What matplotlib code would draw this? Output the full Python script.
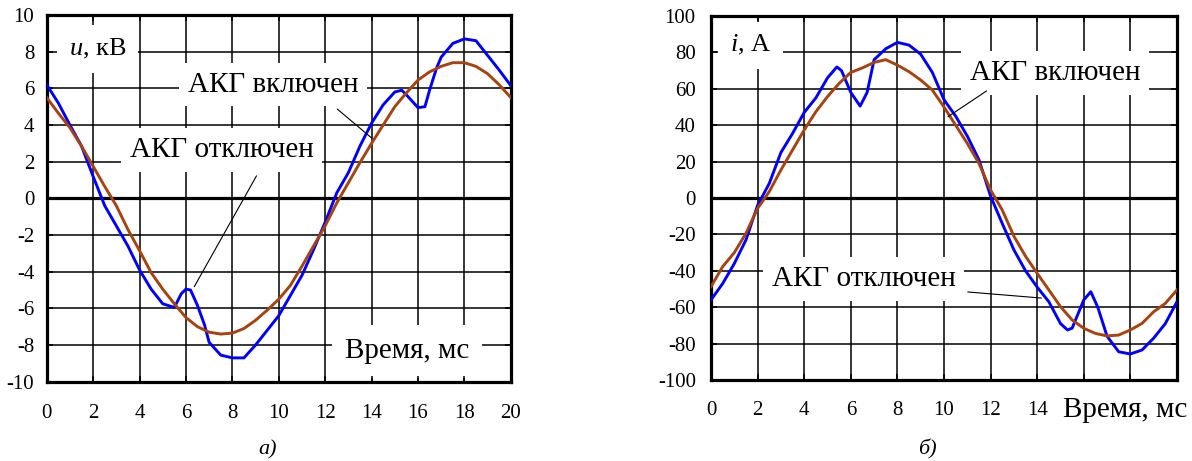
import numpy as np
import matplotlib
matplotlib.use("Agg")
import matplotlib.pyplot as plt

plt.rcParams['font.family'] = ['Liberation Serif', 'DejaVu Serif']
plt.rcParams['mathtext.fontset'] = 'custom'
plt.rcParams['mathtext.rm'] = 'Liberation Serif'
plt.rcParams['mathtext.it'] = 'Liberation Serif:italic'
plt.rcParams['axes.unicode_minus'] = False

# ---------------------------------------------------------------
# data
# ---------------------------------------------------------------
# а) voltage, kV
t_u_on = np.arange(0, 20.01, 0.5)
u_on = [5.5, 4.65, 3.85, 2.85, 1.75, 0.65, -0.4, -1.7, -2.85, -4.05, -4.95,
        -5.75, -6.5, -7.0, -7.3, -7.4, -7.35, -7.1, -6.65, -6.1, -5.5,
        -4.75, -3.7, -2.6, -1.5, -0.25, 0.85, 1.95, 3.0, 4.0, 5.0,
        5.75, 6.45, 6.9, 7.2, 7.4, 7.4, 7.2, 6.8, 6.2, 5.5]

t_u_off = [0, 0.5, 1, 1.5, 2, 2.5, 3, 3.5, 4, 4.5,
           5, 5.5, 5.8, 6, 6.2, 6.5, 6.8, 7, 7.5, 8,
           8.5, 9, 9.5, 10, 10.5, 11, 11.5, 12, 12.5, 13,
           13.5, 14, 14.5, 15, 15.3, 15.5, 16, 16.3, 16.5, 16.8,
           17, 17.5, 18, 18.5, 19, 19.5, 20]
u_off = [6.2, 5.2, 4.0, 2.85, 1.2, -0.4, -1.5, -2.6, -3.9, -4.95,
         -5.75, -5.95, -5.2, -4.95, -5.0, -5.85, -6.9, -7.85, -8.55, -8.7,
         -8.7, -8.0, -7.2, -6.4, -5.3, -4.2, -2.8, -1.3, 0.3, 1.4,
         2.85, 4.1, 5.1, 5.8, 5.9, 5.65, 4.95, 5.0, 5.9, 7.1,
         7.7, 8.45, 8.7, 8.6, 7.8, 7.0, 6.15]

# б) current, A
t_i_on = np.arange(0, 20.01, 0.5)
i_on = [-48.7, -37.7, -30, -19.4, -5.7, 3.5, 15.4, 26.4, 37.4, 47.4, 55.7,
        63, 69, 71.5, 74.5, 76, 73, 69.4, 64.8, 59.3, 50,
        40, 30, 19, 4.4, -6.6, -21, -32, -41.4, -50.5, -59.7,
        -67, -71.6, -74.4, -75.8, -75.3, -72.5, -68.9, -62.5, -57.9, -50.5]

t_i_off = [0, 0.5, 1, 1.5, 2, 2.5, 3, 3.5, 4, 4.5, 5,
           5.4, 5.6, 6, 6.4, 6.7, 7, 7.5, 8, 8.5, 9, 9.5, 10,
           10.5, 11, 11.5, 12, 12.5, 13, 13.5, 14, 14.5, 15,
           15.3, 15.5, 16, 16.3, 16.6, 17, 17.5, 18, 18.5, 19, 19.5, 20]
i_off = [-56, -47, -36, -23, -4, 8, 25, 35.5, 47, 55, 66,
         72, 70, 58, 50.5, 58, 76, 82, 85.5, 84, 79, 69, 54,
         45, 34, 21, 1, -14, -28.5, -40, -49, -57, -69,
         -72.5, -71.5, -56, -51.5, -60, -76, -84.5, -85.7, -83.5, -77, -69, -57]

u_ticks = np.arange(-10, 11, 2)
i_ticks = np.arange(-100, 101, 20)
t_ticks = np.arange(0, 21, 2)
t_labels_b = [str(v) if v <= 14 else '' for v in t_ticks]

blue = '#0000FF'
brown = '#A8430F'
text_size = 21
tick_size = 15


def base_axes(ax, yticks):
    # grid drawn by hand so the white text boxes can hide it
    for x in t_ticks:
        ax.axvline(x, color='black', lw=1.1, zorder=1)
    for y in yticks:
        ax.axhline(y, color='black', lw=2.3 if y == 0 else 1.1, zorder=1)
    ax.set_xlim(0, 20)
    ax.set_ylim(yticks[0], yticks[-1])
    ax.set_xticks(t_ticks)
    ax.set_yticks(yticks)
    ax.tick_params(direction='in', length=4, width=1.1, top=True, right=True,
                   labelsize=tick_size)
    ax.set_axisbelow(False)
    for s in ax.spines.values():
        s.set_linewidth(2.3)


box = dict(facecolor='white', edgecolor='none', boxstyle='square,pad=0.3')
big_box = dict(facecolor='white', edgecolor='none', boxstyle='square,pad=0.45')

fig = plt.figure(figsize=(11.92, 4.61), dpi=100)

# ---------------------------------------------------------------
# а) voltage
# ---------------------------------------------------------------
ax1 = fig.add_axes([0.0392, 0.172, 0.3893, 0.7954])
base_axes(ax1, u_ticks)
ax1.tick_params(axis='x', pad=16)
ax1.tick_params(axis='y', pad=9)
ax1.plot(t_u_off, u_off, color=blue, lw=2.1, zorder=3)
ax1.plot(t_u_on, u_on, color=brown, lw=2.1, zorder=3)

ax1.text(2.2, 7.8, r'$u$, кВ', fontsize=19, ha='center', va='baseline',
         bbox=big_box, zorder=2)
ax1.text(9.75, 5.82, 'АКГ включен', fontsize=text_size, ha='center', va='baseline',
         bbox=box, zorder=2)
ax1.text(7.54, 2.27, 'АКГ отключен', fontsize=text_size, ha='center', va='baseline',
         bbox=box, zorder=2)
ax1.text(15.53, -8.73, 'Время, мс', fontsize=text_size, ha='center', va='baseline',
         bbox=big_box, zorder=2)
ax1.annotate('', xy=(14.09, 3.2), xytext=(12.43, 4.97),
             arrowprops=dict(arrowstyle='-', color='black', lw=0.8), zorder=4)
ax1.annotate('', xy=(6.3, -4.95), xytext=(9.1, 1.36),
             arrowprops=dict(arrowstyle='-', color='black', lw=0.8), zorder=4)

# ---------------------------------------------------------------
# б) current
# ---------------------------------------------------------------
ax2 = fig.add_axes([0.5965, 0.1757, 0.3909, 0.7896])
base_axes(ax2, i_ticks)
ax2.set_xticklabels(t_labels_b)
ax2.tick_params(axis='x', pad=15)
ax2.tick_params(axis='y', pad=11)
ax2.plot(t_i_off, i_off, color=blue, lw=2.1, zorder=3)
ax2.plot(t_i_on, i_on, color=brown, lw=2.1, zorder=3)

ax2.text(1.7, 80.5, r'$i$, А', fontsize=19, ha='center', va='baseline',
         bbox=big_box, zorder=2)
ax2.text(14.76, 64.8, 'АКГ включен', fontsize=text_size, ha='center', va='baseline',
         bbox=box, zorder=2)
ax2.text(6.56, -48.4, 'АКГ отключен', fontsize=text_size, ha='center', va='baseline',
         bbox=box, zorder=2)
ax2.annotate('', xy=(10.07, 43.8), xytext=(11.93, 59.7),
             arrowprops=dict(arrowstyle='-', color='black', lw=0.8), zorder=4)
ax2.annotate('', xy=(14.3, -55.1), xytext=(10.9, -51.5),
             arrowprops=dict(arrowstyle='-', color='black', lw=0.8), zorder=4)

fig.text(0.9438, 0.096, 'Время, мс', fontsize=text_size, ha='center', va='baseline')

fig.text(0.2248, 0.024, 'а)', fontsize=16, style='italic', ha='center', va='center')
fig.text(0.7777, 0.024, 'б)', fontsize=16, style='italic', ha='center', va='center')

fig.savefig('out.png', dpi=100)
